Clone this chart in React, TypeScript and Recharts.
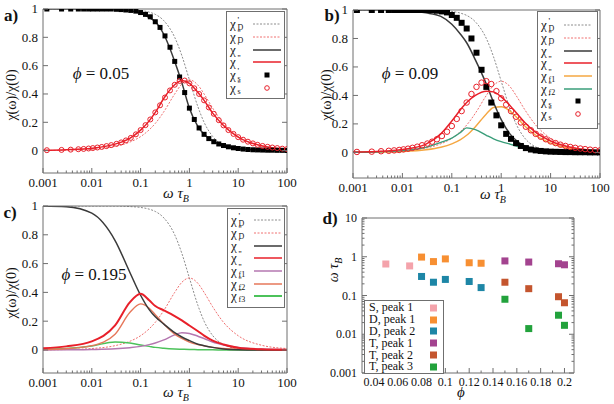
import React from "react";
import { ComposedChart, Line, Scatter, XAxis, YAxis, Legend } from "recharts";

const FONT = '"Liberation Serif", "DejaVu Serif", "Times New Roman", serif';
const AXIS_COLOR = "#6f6f6f";

// model-curve frequencies (ω τ_B)
const W = [0.001, 0.003, 0.01, 0.03, 0.06, 0.1, 0.15, 0.2, 0.3, 0.5, 0.7, 1, 1.5, 2, 3, 5, 10, 30, 100];
// simulation frequencies (ω τ_B)
const WS = [
  0.0012, 0.0024, 0.0037, 0.0053, 0.0068, 0.0086, 0.0105, 0.013, 0.016, 0.02, 0.025, 0.032, 0.04, 0.05, 0.063, 0.08,
  0.1, 0.126, 0.158, 0.2, 0.25, 0.316, 0.4, 0.5, 0.63, 0.8, 1, 1.26, 1.58, 2, 2.5, 3.16, 4, 5, 6.3, 8, 10, 12.6, 15.8,
  20, 25, 31.6, 40, 50, 63, 80, 100,
];

// Debye reference, same in a-c
const CHI1_D = [1, 1, 1, 1, 0.996, 0.99, 0.978, 0.962, 0.917, 0.8, 0.671, 0.5, 0.308, 0.2, 0.1, 0.038, 0.01, 0.001, 0];
const CHI2_D = [0.001, 0.003, 0.01, 0.03, 0.06, 0.099, 0.147, 0.192, 0.275, 0.4, 0.47, 0.5, 0.462, 0.4, 0.3, 0.192, 0.099, 0.033, 0.01];

// a) phi = 0.05
const A_CHI1 = [1, 1, 1, 0.997, 0.988, 0.97, 0.94, 0.91, 0.82, 0.63, 0.48, 0.3, 0.17, 0.115, 0.068, 0.036, 0.015, 0.004, 0.001];
const A_CHI2 = [0.002, 0.006, 0.017, 0.046, 0.087, 0.145, 0.21, 0.27, 0.37, 0.465, 0.495, 0.475, 0.41, 0.355, 0.265, 0.178, 0.095, 0.034, 0.011];
const A_S1 = [
  1, 1, 1, 1, 1, 1, 1, 1, 1, 1, 1, 0.998, 0.996, 0.993, 0.99, 0.985,
  0.975, 0.962, 0.945, 0.91, 0.87, 0.81, 0.73, 0.63, 0.52, 0.41,
  0.3, 0.22, 0.16, 0.115, 0.085, 0.063, 0.047, 0.036, 0.027, 0.02,
  0.015, 0.011, 0.008, 0.006, 0.005, 0.004, 0.003, 0.003, 0.002, 0.002, 0.001,
];
const A_S2 = [
  0.003, 0.005, 0.007, 0.01, 0.012, 0.015, 0.018, 0.022, 0.026, 0.032, 0.039, 0.048, 0.058, 0.072, 0.09, 0.115,
  0.145, 0.18, 0.22, 0.27, 0.32, 0.375, 0.425, 0.465, 0.492, 0.495,
  0.475, 0.44, 0.4, 0.355, 0.305, 0.26, 0.215, 0.178, 0.145, 0.118,
  0.095, 0.077, 0.063, 0.051, 0.041, 0.033, 0.027, 0.022, 0.018, 0.014, 0.011,
];

// b) phi = 0.09
const B_CHI1 = [1, 1, 0.995, 0.98, 0.955, 0.9, 0.83, 0.77, 0.65, 0.48, 0.35, 0.23, 0.13, 0.085, 0.045, 0.02, 0.007, 0.001, 0];
const B_CHI2 = [0.002, 0.006, 0.02, 0.058, 0.13, 0.22, 0.3, 0.35, 0.4, 0.43, 0.425, 0.39, 0.33, 0.28, 0.21, 0.14, 0.08, 0.03, 0.01];
const B_F1 = [0, 0.002, 0.006, 0.018, 0.036, 0.06, 0.09, 0.12, 0.18, 0.27, 0.315, 0.32, 0.29, 0.25, 0.185, 0.12, 0.065, 0.022, 0.007];
const B_F2 = [0.001, 0.003, 0.012, 0.035, 0.07, 0.1, 0.14, 0.172, 0.16, 0.12, 0.095, 0.075, 0.058, 0.045, 0.028, 0.012, 0.004, 0, 0];
const B_S1 = [
  1, 1, 1, 1, 1, 1, 1, 1, 1, 1, 1, 1, 0.998, 0.995, 0.99, 0.983,
  0.965, 0.945, 0.91, 0.87, 0.8, 0.7, 0.58, 0.46, 0.35, 0.26,
  0.19, 0.13, 0.095, 0.065, 0.045, 0.03, 0.02, 0.014, 0.01, 0.007,
  0.005, 0.004, 0.003, 0.002, 0.002, 0.001, 0.001, 0.001, 0, 0, 0,
];
const B_S2 = [
  0.003, 0.005, 0.008, 0.011, 0.014, 0.017, 0.021, 0.026, 0.032, 0.04, 0.05, 0.062, 0.075, 0.092, 0.115, 0.145,
  0.185, 0.235, 0.29, 0.35, 0.41, 0.46, 0.49, 0.5, 0.48, 0.43,
  0.38, 0.335, 0.29, 0.25, 0.21, 0.18, 0.155, 0.13, 0.11, 0.092,
  0.077, 0.065, 0.054, 0.045, 0.038, 0.032, 0.027, 0.023, 0.019, 0.016, 0.014,
];

// c) phi = 0.195
const C_CHI1 = [1, 0.995, 0.95, 0.76, 0.54, 0.38, 0.28, 0.23, 0.18, 0.12, 0.09, 0.065, 0.04, 0.03, 0.018, 0.007, 0.002, 0, 0];
const C_CHI2 = [0.012, 0.025, 0.06, 0.17, 0.33, 0.39, 0.345, 0.305, 0.275, 0.235, 0.205, 0.17, 0.13, 0.1, 0.065, 0.038, 0.016, 0.005, 0.002];
const C_F1 = [0, 0.001, 0.003, 0.008, 0.016, 0.025, 0.037, 0.048, 0.07, 0.105, 0.12, 0.115, 0.095, 0.08, 0.055, 0.035, 0.018, 0.006, 0.002];
const C_F2 = [0.003, 0.008, 0.03, 0.11, 0.26, 0.32, 0.29, 0.245, 0.18, 0.11, 0.08, 0.055, 0.037, 0.028, 0.018, 0.011, 0.006, 0.002, 0.001];
const C_F3 = [0.004, 0.01, 0.028, 0.056, 0.048, 0.035, 0.025, 0.018, 0.012, 0.007, 0.005, 0.003, 0.002, 0.001, 0.001, 0, 0, 0, 0];

// d) peak positions vs phi
const S_PHI = [0.05, 0.07];
const S_PEAK1 = [0.65, 0.58];
const D_PHI = [0.08, 0.09, 0.1, 0.12, 0.13];
const D_PEAK1 = [0.98, 0.75, 0.88, 0.7, 0.68];
const D_PEAK2 = [0.31, 0.22, 0.26, 0.23, 0.16];
const T_PHI = [0.15, 0.17, 0.195, 0.2];
const T_PEAK1 = [0.78, 0.73, 0.66, 0.62];
const T_PEAK2 = [0.22, 0.15, 0.093, 0.065];
const T_PEAK3 = [0.08, 0.014, 0.031, 0.017];

// ticks
const LOG_MAJOR = [0.001, 0.01, 0.1, 1, 10, 100];
const LOG_LABELS = ["0.001", "0.01", "0.1", "1", "10", "100"];
const LOG_MINOR = [0.001, 0.01, 0.1, 1, 10].flatMap((d) => [2, 3, 4, 5, 6, 7, 8, 9].map((m) => d * m));
const Y_MAJOR = [0, 0.2, 0.4, 0.6, 0.8, 1];
const Y_LABELS = ["0", "0.2", "0.4", "0.6", "0.8", "1"];
const PHI_MAJOR = [0.04, 0.06, 0.08, 0.1, 0.12, 0.14, 0.16, 0.18, 0.2];
const PHI_LABELS = ["0.04", "0.06", "0.08", "0.1", "0.12", "0.14", "0.16", "0.18", "0.2"];
const PHI_MINOR = [0.05, 0.07, 0.09, 0.11, 0.13, 0.15, 0.17, 0.19];
const TAU_MAJOR = [0.001, 0.01, 0.1, 1, 10];
const TAU_LABELS = ["0.001", "0.01", "0.1", "1", "10"];
const TAU_MINOR = [0.001, 0.01, 0.1, 1].flatMap((d) => [2, 3, 4, 5, 6, 7, 8, 9].map((m) => d * m));

const zip = (xs: number[], ys: number[]) => xs.map((x, i) => ({ x, y: ys[i] }));

type Side = "bottom" | "top" | "left" | "right";

function tickFor(side: Side, major: number[], labels: string[] | null, fs: number) {
  return (p: any) => {
    const v = p.payload.value as number;
    const idx = major.findIndex((m) => Math.abs(m - v) <= 1e-9 + 1e-6 * Math.abs(m));
    const len = idx >= 0 ? 5 : 2.5;
    const { x, y } = p;
    let c = [x, y, x, y - len];
    if (side === "top") c = [x, y, x, y + len];
    if (side === "left") c = [x, y, x + len, y];
    if (side === "right") c = [x, y, x - len, y];
    const lab = labels && idx >= 0 ? labels[idx] : null;
    return (
      <g>
        <line x1={c[0]} y1={c[1]} x2={c[2]} y2={c[3]} stroke={AXIS_COLOR} strokeWidth={1} />
        {lab && side === "bottom" && (
          <text x={x} y={y + fs + 1} textAnchor="middle" fontSize={fs} style={{ fontFamily: FONT }} fill="#111">
            {lab}
          </text>
        )}
        {lab && side === "left" && (
          <text x={x - 5} y={y + fs * 0.34} textAnchor="end" fontSize={fs} style={{ fontFamily: FONT }} fill="#111">
            {lab}
          </text>
        )}
      </g>
    );
  };
}

type Frame = {
  xScale: "log" | "linear";
  xDomain: [number, number];
  xMajor: number[];
  xMinor: number[];
  xLabels: string[];
  yScale: "log" | "linear";
  yDomain: [number, number];
  yMajor: number[];
  yMinor: number[];
  yLabels: string[];
  xH: number;
  yW: number;
  fs: number;
};

function frameAxes(f: Frame) {
  const xt = [...f.xMajor, ...f.xMinor].sort((a, b) => a - b);
  const yt = [...f.yMajor, ...f.yMinor].sort((a, b) => a - b);
  const common = {
    type: "number" as const,
    tickSize: 0,
    tickMargin: 0,
    tickLine: false,
    interval: 0 as const,
    allowDataOverflow: true,
    axisLine: { stroke: AXIS_COLOR },
  };
  return [
    <XAxis key="xb" xAxisId="b" dataKey="x" scale={f.xScale} domain={f.xDomain} ticks={xt} height={f.xH}
      tick={tickFor("bottom", f.xMajor, f.xLabels, f.fs)} {...common} />,
    <XAxis key="xt" xAxisId="t" orientation="top" scale={f.xScale} domain={f.xDomain} ticks={xt} height={1}
      tick={tickFor("top", f.xMajor, null, f.fs)} {...common} />,
    <YAxis key="yl" yAxisId="l" scale={f.yScale} domain={f.yDomain} ticks={yt} width={f.yW}
      tick={tickFor("left", f.yMajor, f.yLabels, f.fs)} {...common} />,
    <YAxis key="yr" yAxisId="r" orientation="right" scale={f.yScale} domain={f.yDomain} ticks={yt} width={1}
      tick={tickFor("right", f.yMajor, null, f.fs)} {...common} />,
  ];
}

type Curve = { ys: number[]; color: string; width: number; dash?: string };
type Marks = { xs: number[]; ys: number[]; kind: "square" | "circle"; color: string; size: number };

const square = (size: number, color: string) => (p: any) =>
  <rect x={p.cx - size / 2} y={p.cy - size / 2} width={size} height={size} fill={color} />;
const ring = (size: number, color: string) => (p: any) =>
  <circle cx={p.cx} cy={p.cy} r={size / 2} fill="none" stroke={color} strokeWidth={1} />;

// ---------- legend ----------
type Item = { sup: string; sub?: string; kind: "line" | "square" | "circle"; color: string; dash?: string; width?: number };

// χ with a prime above and a subscript below, in one text element
function ChiLabel({ sup, sub }: { sup: string; sub?: string }) {
  return (
    <svg width={24} height={12} style={{ overflow: "visible" }}>
      <text fontSize={13} style={{ fontFamily: FONT }} fill="#111">
        <tspan x={1} y={9.5}>χ</tspan>
        <tspan x={8.5} y={5} fontSize={9}>{sup}</tspan>
        {sub && <tspan x={8.5} y={12} fontSize={8}>{sub}</tspan>}
      </text>
    </svg>
  );
}

function LegendBox({ items, rowH, padTop }: { items: Item[]; rowH: number; padTop: number }) {
  const sampleW = 28;
  return (
    <div style={{
      width: "100%", height: "100%", boxSizing: "border-box", border: `1px solid ${AXIS_COLOR}`,
      background: "#fff", paddingTop: padTop, paddingLeft: 2,
    }}>
      {items.map((it, i) => (
        <div key={i} style={{ display: "flex", alignItems: "center", height: rowH }}>
          <ChiLabel sup={it.sup} sub={it.sub} />
          <svg width={sampleW} height={10}>
            {it.kind === "line" && (
              <line x1={0} y1={5} x2={sampleW} y2={5} stroke={it.color} strokeWidth={it.width ?? 1.3} strokeDasharray={it.dash} />
            )}
            {it.kind === "square" && <rect x={sampleW / 2 - 2.5} y={2.5} width={5} height={5} fill={it.color} />}
            {it.kind === "circle" && <circle cx={sampleW / 2} cy={5} r={2.3} fill="none" stroke={it.color} />}
          </svg>
        </div>
      ))}
    </div>
  );
}

// ---------- colours ----------
const GRAY_D = "#8c8c8c";
const RED_D = "#f07070";
const DARK = "#3a3a3a";
const RED = "#e8202a";
const DASH = "2 1.5";

const DEBYE: Curve[] = [
  { ys: CHI1_D, color: GRAY_D, width: 1, dash: DASH },
  { ys: CHI2_D, color: RED_D, width: 1, dash: DASH },
];

const BASE_ITEMS: Item[] = [
  { sup: "'", sub: "D", kind: "line", color: GRAY_D, dash: DASH, width: 1 },
  { sup: "''", sub: "D", kind: "line", color: RED_D, dash: DASH, width: 1 },
  { sup: "'", kind: "line", color: DARK, width: 1.5 },
  { sup: "''", kind: "line", color: RED, width: 1.5 },
];

function SusPanel(props: {
  left: number; top: number; width: number; height: number;
  margin: { top: number; right: number; left: number; bottom: number };
  yW: number; xH: number; yMin: number;
  curves: Curve[]; marks: Marks[];
  items: Item[]; legendBox: React.CSSProperties; legendPadTop: number;
}) {
  return (
    <div style={{ position: "absolute", left: props.left, top: props.top }}>
      <ComposedChart width={props.width} height={props.height} margin={props.margin}>
        {frameAxes({
          xScale: "log", xDomain: [0.001, 100], xMajor: LOG_MAJOR, xMinor: LOG_MINOR, xLabels: LOG_LABELS,
          yScale: "linear", yDomain: [props.yMin, 1], yMajor: Y_MAJOR, yMinor: [], yLabels: Y_LABELS,
          xH: props.xH, yW: props.yW, fs: 13,
        })}
        {props.curves.map((c, i) => (
          <Line key={`c${i}`} xAxisId="b" yAxisId="l" data={zip(W, c.ys)} dataKey="y" type="monotone"
            stroke={c.color} strokeWidth={c.width} strokeDasharray={c.dash} dot={false} activeDot={false}
            isAnimationActive={false} />
        ))}
        {props.marks.map((m, i) => (
          <Scatter key={`m${i}`} xAxisId="b" yAxisId="l" data={zip(m.xs, m.ys)} dataKey="y"
            shape={m.kind === "square" ? square(m.size, m.color) : ring(m.size, m.color)}
            isAnimationActive={false} />
        ))}
        <Legend layout="vertical" align="center" verticalAlign="middle"
          wrapperStyle={{ ...props.legendBox, margin: 0 }}
          content={() => <LegendBox items={props.items} rowH={12.7} padTop={props.legendPadTop} />} />
      </ComposedChart>
    </div>
  );
}

function Txt({ x, y, children, style }: { x: number; y: number; children: React.ReactNode; style?: React.CSSProperties }) {
  return (
    <div style={{
      position: "absolute", left: x, top: y, transform: "translate(-50%, -50%)", whiteSpace: "nowrap",
      fontFamily: FONT, color: "#111", lineHeight: 1, ...style,
    }}>
      {children}
    </div>
  );
}

const WTB = (
  <span style={{ fontStyle: "italic" }}>
    ω τ<span style={{ fontSize: 10, position: "relative", top: 4 }}>B</span>
  </span>
);

const PEAK_ITEMS: { label: string; color: string }[] = [
  { label: "S, peak 1", color: "#f4a3ab" },
  { label: "D, peak 1", color: "#f78f32" },
  { label: "D, peak 2", color: "#1d86a6" },
  { label: "T, peak 1", color: "#a3438f" },
  { label: "T, peak 2", color: "#c4552e" },
  { label: "T, peak 3", color: "#22a23c" },
];

function PeakPanel() {
  const sets = [
    { xs: S_PHI, ys: S_PEAK1 },
    { xs: D_PHI, ys: D_PEAK1 },
    { xs: D_PHI, ys: D_PEAK2 },
    { xs: T_PHI, ys: T_PEAK1 },
    { xs: T_PHI, ys: T_PEAK2 },
    { xs: T_PHI, ys: T_PEAK3 },
  ];
  return (
    <div style={{ position: "absolute", left: 307, top: 195 }}>
      <ComposedChart width={307} height={209} margin={{ top: 22, right: 39, left: 0, bottom: 0 }}>
        {frameAxes({
          xScale: "linear", xDomain: [0.03, 0.208], xMajor: PHI_MAJOR, xMinor: PHI_MINOR, xLabels: PHI_LABELS,
          yScale: "log", yDomain: [0.001, 10], yMajor: TAU_MAJOR, yMinor: TAU_MINOR, yLabels: TAU_LABELS,
          xH: 31, yW: 55, fs: 12,
        })}
        {sets.map((s, i) => (
          <Scatter key={i} xAxisId="b" yAxisId="l" data={zip(s.xs, s.ys)} dataKey="y"
            shape={square(7, PEAK_ITEMS[i].color)} isAnimationActive={false} />
        ))}
        <Legend layout="vertical" align="center" verticalAlign="middle"
          wrapperStyle={{ left: 57, top: 105, width: 80, height: 74, margin: 0 }}
          content={() => (
            <div style={{
              width: "100%", height: "100%", boxSizing: "border-box", border: `1px solid ${AXIS_COLOR}`,
              background: "#fff", paddingTop: 1, paddingLeft: 4, fontFamily: FONT, fontSize: 12, color: "#111",
            }}>
              {PEAK_ITEMS.map((it, i) => (
                <div key={i} style={{ display: "flex", alignItems: "center", height: 11.8, lineHeight: "11px", whiteSpace: "nowrap" }}>
                  <div style={{ width: 58 }}>{it.label}</div>
                  <svg width={14} height={10}>
                    <rect x={3} y={1.5} width={7} height={7} fill={it.color} />
                  </svg>
                </div>
              ))}
            </div>
          )} />
      </ComposedChart>
    </div>
  );
}

export default function App() {
  return (
    <div style={{ position: "absolute", left: 0, top: 0, width: 614, height: 404, background: "#fff", overflow: "hidden", fontFamily: FONT }}>
      <SusPanel
        left={0} top={0} width={300} height={200}
        margin={{ top: 8, right: 12, left: 0, bottom: 0 }} yW={43} xH={27} yMin={-0.158}
        curves={[
          ...DEBYE,
          { ys: A_CHI1, color: DARK, width: 1.5 },
          { ys: A_CHI2, color: RED, width: 1.5 },
        ]}
        marks={[
          { xs: WS, ys: A_S1, kind: "square", color: "#000", size: 5 },
          { xs: WS, ys: A_S2, kind: "circle", color: RED, size: 5 },
        ]}
        items={[
          ...BASE_ITEMS,
          { sup: "'", sub: "s", kind: "square", color: "#000" },
          { sup: "''", sub: "s", kind: "circle", color: RED },
        ]}
        legendBox={{ left: 226, top: 11, width: 59, height: 88 }} legendPadTop={6}
      />
      <SusPanel
        left={307} top={0} width={307} height={200}
        margin={{ top: 9, right: 13, left: 0, bottom: 0 }} yW={46} xH={22} yMin={-0.18}
        curves={[
          ...DEBYE,
          { ys: B_F1, color: "#f5a742", width: 1.4 },
          { ys: B_F2, color: "#3a9e7a", width: 1.4 },
          { ys: B_CHI1, color: DARK, width: 1.5 },
          { ys: B_CHI2, color: RED, width: 1.5 },
        ]}
        marks={[
          { xs: WS, ys: B_S1, kind: "square", color: "#000", size: 6 },
          { xs: WS, ys: B_S2, kind: "circle", color: RED, size: 5.5 },
        ]}
        items={[
          ...BASE_ITEMS,
          { sup: "''", sub: "f1", kind: "line", color: "#f5a742", width: 1.5 },
          { sup: "''", sub: "f2", kind: "line", color: "#3a9e7a", width: 1.5 },
          { sup: "'", sub: "s", kind: "square", color: "#000" },
          { sup: "''", sub: "s", kind: "circle", color: RED },
        ]}
        legendBox={{ left: 230, top: 11, width: 61, height: 118 }} legendPadTop={7}
      />
      <SusPanel
        left={0} top={195} width={300} height={209}
        margin={{ top: 10, right: 12, left: 0, bottom: 0 }} yW={43} xH={31} yMin={-0.16}
        curves={[
          ...DEBYE,
          { ys: C_F3, color: "#4cc25a", width: 1.5 },
          { ys: C_F1, color: "#b577b0", width: 1.5 },
          { ys: C_F2, color: "#e6775a", width: 1.4 },
          { ys: C_CHI1, color: DARK, width: 1.5 },
          { ys: C_CHI2, color: RED, width: 2 },
        ]}
        marks={[]}
        items={[
          ...BASE_ITEMS,
          { sup: "''", sub: "f1", kind: "line", color: "#b577b0", width: 1.5 },
          { sup: "''", sub: "f2", kind: "line", color: "#e6775a", width: 1.5 },
          { sup: "''", sub: "f3", kind: "line", color: "#4cc25a", width: 2 },
        ]}
        legendBox={{ left: 227, top: 13, width: 58, height: 100 }} legendPadTop={5}
      />
      <PeakPanel />

      {/* panel tags */}
      <Txt x={11} y={15} style={{ fontWeight: "bold", fontSize: 17 }}>a)</Txt>
      <Txt x={332} y={15} style={{ fontWeight: "bold", fontSize: 17 }}>b)</Txt>
      <Txt x={10} y={212} style={{ fontWeight: "bold", fontSize: 17 }}>c)</Txt>
      <Txt x={330} y={218} style={{ fontWeight: "bold", fontSize: 17 }}>d)</Txt>

      {/* volume fractions */}
      <Txt x={101} y={73} style={{ fontSize: 17 }}><i>ϕ</i> = 0.05</Txt>
      <Txt x={410} y={73} style={{ fontSize: 17 }}><i>ϕ</i> = 0.09</Txt>
      <Txt x={94} y={274} style={{ fontSize: 17 }}><i>ϕ</i> = 0.195</Txt>

      {/* axis titles */}
      <Txt x={12} y={95} style={{ fontSize: 14, transform: "translate(-50%, -50%) rotate(-90deg)" }}>χ(ω)/χ(0)</Txt>
      <Txt x={327} y={95} style={{ fontSize: 14, transform: "translate(-50%, -50%) rotate(-90deg)" }}>χ(ω)/χ(0)</Txt>
      <Txt x={12} y={293} style={{ fontSize: 14, transform: "translate(-50%, -50%) rotate(-90deg)" }}>χ(ω)/χ(0)</Txt>
      <Txt x={334} y={270} style={{ fontSize: 14, transform: "translate(-50%, -50%) rotate(-90deg)" }}>{WTB}</Txt>
      <Txt x={176} y={193} style={{ fontSize: 15 }}>{WTB}</Txt>
      <Txt x={493} y={194} style={{ fontSize: 15 }}>{WTB}</Txt>
      <Txt x={176} y={392} style={{ fontSize: 15 }}>{WTB}</Txt>
      <Txt x={461} y={392} style={{ fontSize: 15 }}><i>ϕ</i></Txt>
    </div>
  );
}
